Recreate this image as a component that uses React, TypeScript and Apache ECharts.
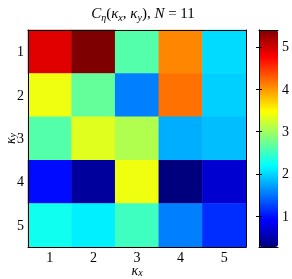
import React, { useEffect, useRef } from "react";
import * as echarts from "echarts";

const kxLabels = ["1", "2", "3", "4", "5"];
const kyLabels = ["1", "2", "3", "4", "5"];
const row1 = [4.91, 5.4, 2.62, 4.08, 2.02];
const row2 = [3.4, 2.7, 1.55, 4.19, 1.96];
const row3 = [2.62, 3.32, 3.08, 1.79, 1.87];
const row4 = [0.96, 0.42, 3.4, 0.27, 0.68];
const row5 = [2.27, 2.12, 2.51, 1.55, 1.14];
const rows = [row1, row2, row3, row4, row5];
const colorMin = 0.27;
const colorMax = 5.4;
const colorTicks = [1, 2, 3, 4, 5];
const jet = [
  "#00007F", "#0000FF", "#007FFF", "#00FFFF", "#7FFF7F",
  "#FFFF00", "#FF7F00", "#FF0000", "#7F0000",
];

const SERIF = "Liberation Serif";

export default function App() {
  const ref = useRef<HTMLDivElement>(null);
  useEffect(() => {
    if (!ref.current) return;
    const chart = echarts.init(ref.current, null, { renderer: "svg" });
    const data: number[][] = [];
    rows.forEach((r, yi) => r.forEach((v, xi) => data.push([xi, yi, v])));

    const tick = { inside: true, alignWithLabel: true, length: 3, lineStyle: { color: "#000", width: 1 } };
    const line = { show: true, lineStyle: { color: "#000", width: 1 } };
    const lab = { fontFamily: SERIF, fontSize: 14, color: "#000" };
    const nameRich = {
      i: { fontFamily: SERIF, fontStyle: "italic", fontSize: 14, color: "#000", lineHeight: 12 },
      s: { fontFamily: SERIF, fontStyle: "italic", fontSize: 10, color: "#000", lineHeight: 10, padding: [5, 0, 0, 0] },
    };

    chart.setOption({
      animation: false,
      grid: [
        { left: 28, top: 30, width: 218, height: 217, containLabel: false, outerBoundsMode: "none" },
        { left: 259, top: 30, width: 19, height: 217, containLabel: false, outerBoundsMode: "none" },
      ],
      xAxis: [
        {
          type: "category", data: kxLabels, gridIndex: 0, position: "bottom", z: 10,
          axisTick: tick, axisLine: line, axisLabel: { ...lab, margin: 5, lineHeight: 11 },
          name: "{i|κ}{s|x}", nameLocation: "middle", nameGap: 17, nameMoveOverlap: false,
          nameTextStyle: { rich: nameRich },
        },
        {
          type: "category", data: kxLabels, gridIndex: 0, position: "top", z: 10,
          axisTick: tick, axisLine: line, axisLabel: { show: false },
        },
        { type: "value", gridIndex: 1, min: 0, max: 1, position: "bottom", z: 10, axisLine: line, axisTick: { show: false }, axisLabel: { show: false }, splitLine: { show: false } },
        { type: "value", gridIndex: 1, min: 0, max: 1, position: "top", z: 10, axisLine: line, axisTick: { show: false }, axisLabel: { show: false }, splitLine: { show: false } },
      ],
      yAxis: [
        {
          type: "category", data: kyLabels, gridIndex: 0, inverse: true, position: "left", z: 10,
          axisTick: tick, axisLine: line, axisLabel: { ...lab, margin: 4 },
          name: "{i|κ}{s|y}", nameLocation: "middle", nameGap: 12, nameRotate: 90, nameMoveOverlap: false,
          nameTextStyle: { rich: nameRich },
        },
        {
          type: "category", data: kyLabels, gridIndex: 0, inverse: true, position: "right", z: 10,
          axisTick: tick, axisLine: line, axisLabel: { show: false },
        },
        {
          type: "value", gridIndex: 1, min: colorMin, max: colorMax, position: "right", z: 10,
          axisLine: line, splitLine: { show: false },
          axisTick: { inside: true, length: 3, lineStyle: { color: "#000" }, customValues: colorTicks },
          axisLabel: { ...lab, margin: 4, customValues: colorTicks },
        },
        {
          type: "value", gridIndex: 1, min: colorMin, max: colorMax, position: "left", z: 10,
          axisLine: line, splitLine: { show: false },
          axisTick: { inside: true, length: 3, lineStyle: { color: "#000" }, customValues: colorTicks },
          axisLabel: { show: false },
        },
      ],
      visualMap: {
        type: "continuous", min: colorMin, max: colorMax, seriesIndex: 0,
        inRange: { color: jet }, orient: "vertical", left: 259, top: 30,
        itemWidth: 19, itemHeight: 217, padding: 0, calculable: false, hoverLink: false,
        text: null, showLabel: false,
      },
      graphic: [
        {
          type: "text", x: 143, y: 13, z: 20,
          style: {
            text: "{i|C}{s|η}{n|(}{i|κ}{s|x}{n|, }{i|κ}{s|y}{n|), }{i|N}{n| = 11}",
            align: "center", verticalAlign: "middle",
            rich: {
              i: { fontFamily: SERIF, fontStyle: "italic", fontSize: 15, fill: "#000", lineHeight: 16 },
              n: { fontFamily: SERIF, fontSize: 15, fill: "#000", lineHeight: 16 },
              s: { fontFamily: SERIF, fontStyle: "italic", fontSize: 10, fill: "#000", lineHeight: 12, padding: [8, 0, 0, 0] },
            },
          },
        },
      ],
      series: [
        {
          type: "heatmap", xAxisIndex: 0, yAxisIndex: 0, data,
          itemStyle: { borderWidth: 0 }, emphasis: { disabled: true }, z: 2,
        },
      ],
    });
    return () => chart.dispose();
  }, []);
  return <div ref={ref} style={{ position: "fixed", left: 0, top: 0, width: 292, height: 279 }} />;
}
